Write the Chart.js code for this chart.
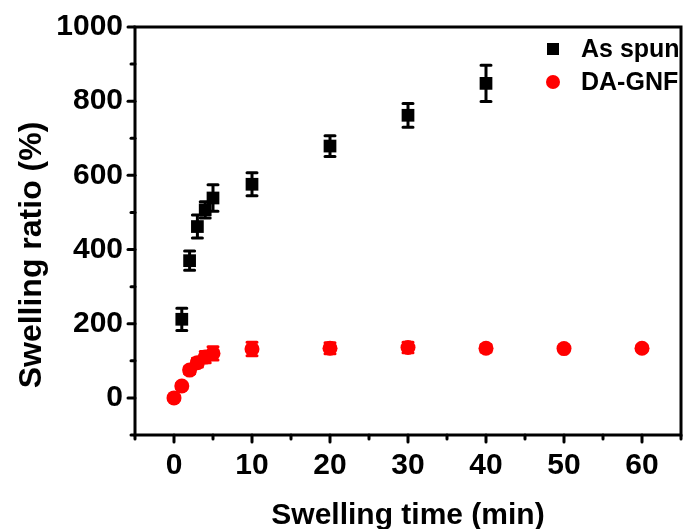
<!DOCTYPE html>
<html lang="en">
<head>
    <meta charset="UTF-8">
    <title>Swelling ratio</title>
    <style>
        html, body {
            margin: 0;
            padding: 0;
            background: #fff;
            overflow: hidden;
        }
        canvas {
            display: block;
        }
    </style>
</head>
<body>
    <canvas id="chart" width="683" height="529"></canvas>

    <script src="https://cdn.jsdelivr.net/npm/chart.js"></script>
    <script>
        // data
        const timeAsSpun = [1, 2, 3, 4, 5, 10, 20, 30, 40];
        const ratioAsSpun = [212, 370, 462, 507, 539, 576, 679, 762, 848];
        const errAsSpun = [30, 26, 31, 22, 36, 31, 28, 32, 49];

        const timeDaGnf = [0, 1, 2, 3, 4, 5, 10, 20, 30, 40, 50, 60];
        const ratioDaGnf = [0, 32, 75, 95, 110, 120, 132, 134, 136, 134, 133, 134];
        const errDaGnf = [6, 8, 10, 12, 15, 18, 18, 15, 14, 10, 8, 8];

        const xTickLabels = [0, 10, 20, 30, 40, 50, 60];
        const yTickLabels = [0, 200, 400, 600, 800, 1000];

        const FONT = '"Liberation Sans", Arial, sans-serif';

        function toPoints(xs, ys) {
            return xs.map((x, i) => ({ x: x, y: ys[i] }));
        }

        // frame + outward ticks (major / minor)
        const framePlugin = {
            id: 'frame',
            afterDraw(chart) {
                const ctx = chart.ctx;
                const a = chart.chartArea;
                const xs = chart.scales.x, ys = chart.scales.y;
                ctx.save();
                ctx.strokeStyle = '#000';
                ctx.lineWidth = 3;
                ctx.strokeRect(a.left, a.top, a.right - a.left, a.bottom - a.top);
                ctx.lineCap = 'round';
                ys.ticks.forEach(t => {
                    const y = ys.getPixelForValue(t.value);
                    const len = yTickLabels.includes(t.value) ? 7 : 4;
                    ctx.beginPath();
                    ctx.moveTo(a.left, y);
                    ctx.lineTo(a.left - len, y);
                    ctx.stroke();
                });
                xs.ticks.forEach(t => {
                    const x = xs.getPixelForValue(t.value);
                    const len = xTickLabels.includes(t.value) ? 7 : 4;
                    ctx.beginPath();
                    ctx.moveTo(x, a.bottom);
                    ctx.lineTo(x, a.bottom + len);
                    ctx.stroke();
                });

                // y title sits a bit below the axis middle in the figure
                ctx.fillStyle = '#000';
                ctx.font = 'bold 32px ' + FONT;
                ctx.textAlign = 'center';
                ctx.textBaseline = 'middle';
                ctx.translate(31, (a.top + a.bottom) / 2 + 24);
                ctx.rotate(-Math.PI / 2);
                ctx.fillText('Swelling ratio (%)', 0, 1);
                ctx.restore();
            }
        };

        // vertical error bars from the err arrays
        const errorBarPlugin = {
            id: 'errorBars',
            beforeDatasetsDraw(chart) {
                const ctx = chart.ctx;
                const xs = chart.scales.x, ys = chart.scales.y;
                ctx.save();
                ctx.lineWidth = 3;
                ctx.lineCap = 'round';
                chart.data.datasets.forEach(ds => {
                    ctx.strokeStyle = ds.backgroundColor;
                    ds.data.forEach((p, i) => {
                        const e = ds.errors[i];
                        const x = xs.getPixelForValue(p.x);
                        const yt = ys.getPixelForValue(p.y + e);
                        const yb = ys.getPixelForValue(p.y - e);
                        ctx.beginPath();
                        ctx.moveTo(x, yt);
                        ctx.lineTo(x, yb);
                        ctx.moveTo(x - 5, yt);
                        ctx.lineTo(x + 5, yt);
                        ctx.moveTo(x - 5, yb);
                        ctx.lineTo(x + 5, yb);
                        ctx.stroke();
                    });
                });
                ctx.restore();
            }
        };

        // legend inside the plot, top right
        const legendPlugin = {
            id: 'cornerLegend',
            afterDraw(chart) {
                const ctx = chart.ctx;
                const a = chart.chartArea;
                ctx.save();
                ctx.font = 'bold 25px ' + FONT;
                ctx.textBaseline = 'middle';
                chart.data.datasets.forEach((ds, i) => {
                    const cy = a.top + 22 + i * 33;
                    const cx = a.right - 128;
                    ctx.fillStyle = ds.backgroundColor;
                    ctx.beginPath();
                    if (ds.pointStyle === 'rect') {
                        ctx.rect(cx - 6, cy - 6, 12, 12);
                    } else {
                        ctx.arc(cx, cy, 7, 0, Math.PI * 2);
                    }
                    ctx.fill();
                    ctx.fillStyle = '#000';
                    ctx.fillText(ds.label, cx + 28, cy + 1);
                });
                ctx.restore();
            }
        };

        const ctx = document.getElementById('chart').getContext('2d');
        const chart = new Chart(ctx, {
            type: 'scatter',
            data: {
                datasets: [
                    {
                        label: 'As spun',
                        data: toPoints(timeAsSpun, ratioAsSpun),
                        errors: errAsSpun,
                        pointStyle: 'rect',
                        pointRadius: 9,
                        pointBorderWidth: 0,
                        backgroundColor: '#000000',
                        borderColor: '#000000'
                    },
                    {
                        label: 'DA-GNF',
                        data: toPoints(timeDaGnf, ratioDaGnf),
                        errors: errDaGnf,
                        pointStyle: 'circle',
                        pointRadius: 7.5,
                        pointBorderWidth: 0,
                        backgroundColor: '#ff0000',
                        borderColor: '#ff0000'
                    }
                ]
            },
            options: {
                responsive: false,
                animation: false,
                layout: {
                    autoPadding: false,
                    padding: { top: 27, right: 2, left: 0, bottom: 0 }
                },
                plugins: {
                    legend: { display: false },
                    tooltip: { enabled: false }
                },
                scales: {
                    x: {
                        type: 'linear',
                        min: -5,
                        max: 65,
                        afterFit(scale) {
                            scale.height = 94;
                            scale.paddingLeft = 0;
                            scale.paddingRight = 0;
                        },
                        grid: { display: false, drawTicks: false },
                        border: { display: false },
                        ticks: {
                            stepSize: 5,
                            autoSkip: false,
                            maxRotation: 0,
                            padding: 13,
                            color: '#000',
                            font: { family: FONT, size: 30, weight: 'bold' },
                            callback: v => xTickLabels.includes(v) ? String(v) : ''
                        },
                        title: {
                            display: true,
                            text: 'Swelling time (min)',
                            color: '#000',
                            font: { family: FONT, size: 30, weight: 'bold' },
                            padding: { top: 10, bottom: -5 }
                        }
                    },
                    y: {
                        type: 'linear',
                        min: -100,
                        max: 1000,
                        afterFit(scale) {
                            scale.width = 135;
                            scale.paddingTop = 0;
                            scale.paddingBottom = 0;
                        },
                        grid: { display: false, drawTicks: false },
                        border: { display: false },
                        ticks: {
                            stepSize: 100,
                            autoSkip: false,
                            padding: 12,
                            color: '#000',
                            font: { family: FONT, size: 30, weight: 'bold' },
                            callback: v => yTickLabels.includes(v) ? String(v) : ''
                        },
                        title: { display: false }
                    }
                }
            },
            plugins: [errorBarPlugin, framePlugin, legendPlugin]
        });
    </script>
</body>
</html>
